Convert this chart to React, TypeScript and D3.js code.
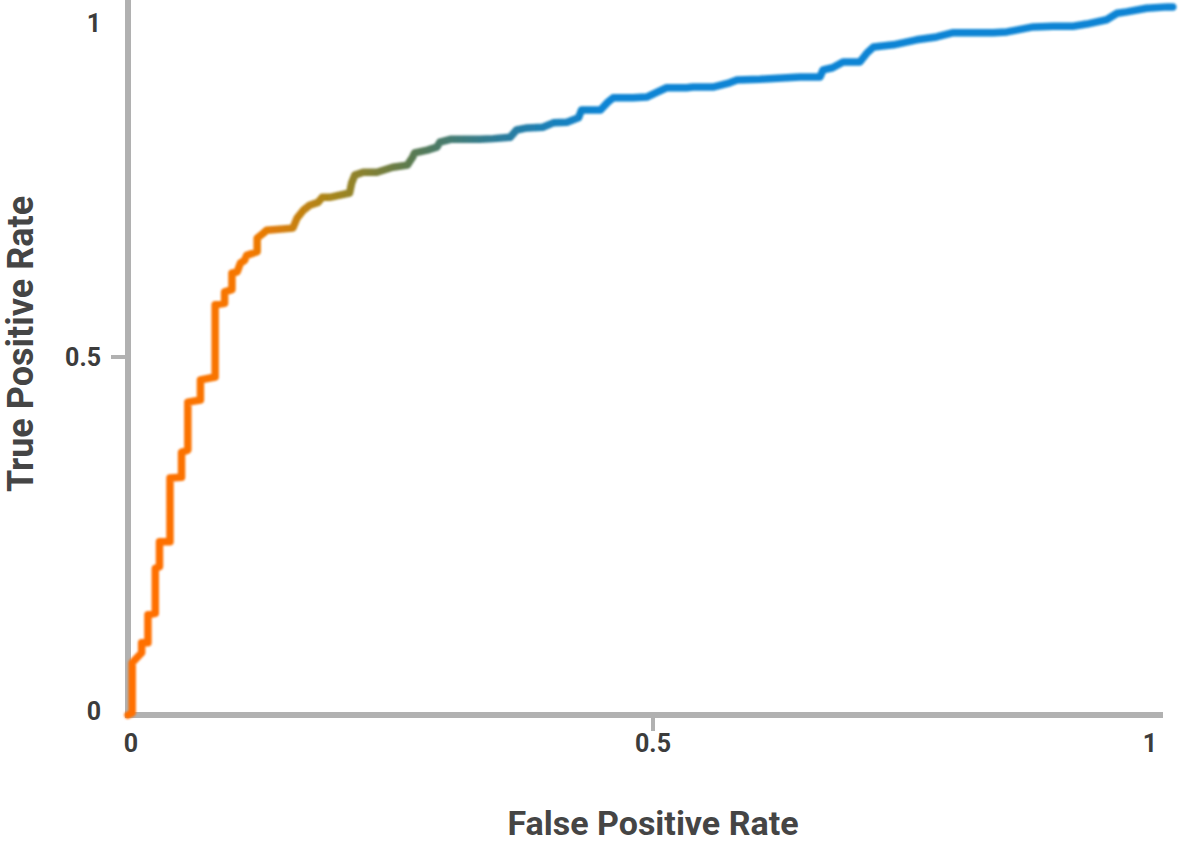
import React from "react";
import * as d3 from "d3";

const fpr = [0, 0.004, 0.004, 0.013, 0.013, 0.019, 0.019, 0.026, 0.026, 0.03, 0.03, 0.04, 0.04, 0.051, 0.051, 0.057, 0.057, 0.069, 0.069, 0.083, 0.083, 0.092, 0.092, 0.099, 0.099, 0.104, 0.107, 0.111, 0.113, 0.123, 0.123, 0.129, 0.132, 0.157, 0.161, 0.167, 0.173, 0.181, 0.185, 0.192, 0.211, 0.213, 0.216, 0.224, 0.237, 0.252, 0.266, 0.271, 0.273, 0.285, 0.294, 0.297, 0.307, 0.319, 0.335, 0.348, 0.364, 0.37, 0.38, 0.395, 0.405, 0.418, 0.429, 0.432, 0.45, 0.457, 0.462, 0.481, 0.494, 0.504, 0.513, 0.532, 0.538, 0.557, 0.573, 0.58, 0.602, 0.64, 0.659, 0.662, 0.671, 0.681, 0.697, 0.704, 0.71, 0.729, 0.751, 0.77, 0.786, 0.824, 0.837, 0.862, 0.881, 0.9, 0.913, 0.932, 0.942, 0.951, 0.97, 0.99, 0.995];
const tpr = [0, 0.003, 0.073, 0.087, 0.101, 0.101, 0.14, 0.142, 0.205, 0.207, 0.242, 0.242, 0.331, 0.332, 0.367, 0.37, 0.437, 0.44, 0.468, 0.472, 0.573, 0.575, 0.591, 0.594, 0.617, 0.619, 0.631, 0.635, 0.642, 0.647, 0.666, 0.673, 0.677, 0.68, 0.694, 0.705, 0.712, 0.716, 0.723, 0.723, 0.729, 0.743, 0.754, 0.758, 0.758, 0.765, 0.768, 0.779, 0.785, 0.789, 0.793, 0.8, 0.804, 0.804, 0.804, 0.805, 0.807, 0.817, 0.82, 0.821, 0.827, 0.828, 0.834, 0.845, 0.845, 0.856, 0.862, 0.862, 0.863, 0.87, 0.876, 0.876, 0.877, 0.877, 0.883, 0.887, 0.888, 0.891, 0.891, 0.901, 0.904, 0.912, 0.912, 0.925, 0.933, 0.936, 0.943, 0.947, 0.953, 0.953, 0.954, 0.961, 0.962, 0.962, 0.965, 0.971, 0.98, 0.982, 0.987, 0.989, 0.989];

const xTicks = [0, 0.5, 1];
const yTicks = [0, 0.5, 1];
const xTickLabels = ["0", "0.5", "1"];
const yTickLabels = ["0", "0.5", "1"];

const W = 1179;
const H = 846;

export default function App() {
  const x = d3.scaleLinear().domain([0, 1]).range([128, 1178]);
  const y = d3.scaleLinear().domain([0, 1]).range([715, -1]);
  const pts = fpr.map((f, i) => [f, tpr[i]] as [number, number]);
  const line = d3
    .line<[number, number]>()
    .x((d) => x(d[0]))
    .y((d) => y(d[1]));
  const axisColor = "#b1b1b1";
  const labelColor = "#3c3c3c";
  const font = "Roboto, 'Noto Sans', sans-serif";
  const xLabelPos = (v: number) => Math.min(Math.max(x(v), 131), 1150);
  const yLabelPos = (v: number) => Math.min(Math.max(y(v), 23), 711);
  return (
    <svg
      width={W}
      height={H}
      style={{ position: "absolute", left: 0, top: 0, background: "#fff" }}
    >
      <defs>
        <linearGradient id="rocGrad" gradientUnits="userSpaceOnUse" x1={150} y1={0} x2={600} y2={0}>
          <stop offset="0%" stopColor="#ff6f00" />
          <stop offset="22%" stopColor="#f57800" />
          <stop offset="40%" stopColor="#a8861a" />
          <stop offset="58%" stopColor="#5a7a50" />
          <stop offset="78%" stopColor="#2a7c9c" />
          <stop offset="100%" stopColor="#0b84d4" />
        </linearGradient>
        <filter id="soft" x="-5%" y="-5%" width="110%" height="110%">
          <feGaussianBlur stdDeviation="1" />
        </filter>
      </defs>
      <line x1={x(0)} x2={x(0)} y1={0} y2={718} stroke={axisColor} strokeWidth={6} />
      <line x1={125} x2={1163} y1={y(0)} y2={y(0)} stroke={axisColor} strokeWidth={6} />
      <line x1={x(0.5)} x2={x(0.5)} y1={y(0)} y2={y(0) + 16} stroke={axisColor} strokeWidth={4} />
      <line x1={111} x2={x(0)} y1={y(0.5)} y2={y(0.5)} stroke={axisColor} strokeWidth={4} />
      <path
        d={line(pts) || ""}
        fill="none"
        stroke="url(#rocGrad)"
        strokeWidth={7.5}
        strokeLinejoin="round"
        strokeLinecap="round"
        filter="url(#soft)"
      />
      {xTicks.map((t, i) => (
        <text
          key={"xt" + i}
          x={xLabelPos(t)}
          y={752}
          textAnchor="middle"
          fontFamily={font}
          fontWeight={700}
          fontSize={25}
          fill={labelColor}
        >
          {xTickLabels[i]}
        </text>
      ))}
      {yTicks.map((t, i) => (
        <text
          key={"yt" + i}
          x={101}
          y={yLabelPos(t)}
          dy="0.35em"
          textAnchor="end"
          fontFamily={font}
          fontWeight={700}
          fontSize={25}
          fill={labelColor}
        >
          {yTickLabels[i]}
        </text>
      ))}
      <text
        x={653}
        y={835}
        textAnchor="middle"
        fontFamily={font}
        fontWeight={700}
        fontSize={34}
        fill="#454545"
      >
        False Positive Rate
      </text>
      <text
        transform={`translate(33, 344) rotate(-90)`}
        textAnchor="middle"
        fontFamily={font}
        fontWeight={700}
        fontSize={36}
        fill="#454545"
      >
        True Positive Rate
      </text>
    </svg>
  );
}
